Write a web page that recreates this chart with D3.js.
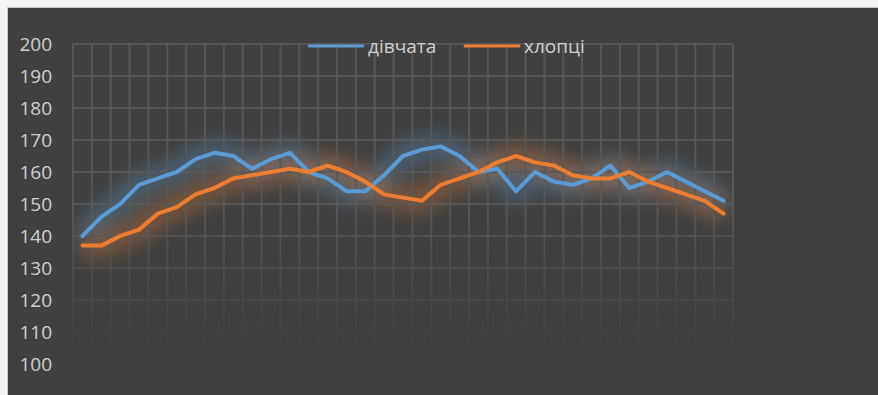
<!DOCTYPE html>
<html>
<head>
<meta charset="utf-8">
<script src="https://cdn.jsdelivr.net/npm/d3@7"></script>
<style>
  body { margin: 0; background: #f2f2f2; }
  svg { display: block; }
</style>
</head>
<body>
<div id="chart"></div>
<script>
// chart data
var categories = d3.range(1, 36);
var girls = [140, 146, 150, 156, 158, 160, 164, 166, 165, 161, 164, 166, 160, 158, 154, 154, 159, 165, 167, 168,
             165, 160, 161, 154, 160, 157, 156, 158, 162, 155, 157, 160, 157, 154, 151];
var boys = [137, 137, 140, 142, 147, 149, 153, 155, 158, 159, 160, 161, 160, 162, 160, 157, 153, 152, 151, 156,
            158, 160, 163, 165, 163, 162, 159, 158, 158, 160, 157, 155, 153, 151, 147];
var yTicks = [100, 110, 120, 130, 140, 150, 160, 170, 180, 190, 200];
var seriesNames = ['дівчата', 'хлопці'];
var seriesColors = ['#5b9bd5', '#ed7d31'];

var W = 878, H = 395;
var plotL = 73, plotR = 733, plotT = 44, plotB = 364;

var svg = d3.select('#chart').append('svg')
    .attr('width', W)
    .attr('height', H);

// light frame on top/left, dark chart area
svg.append('rect').attr('x', 0).attr('y', 0).attr('width', W).attr('height', H).attr('fill', '#f4f4f4');
svg.append('rect').attr('x', 7).attr('y', 7).attr('width', W).attr('height', H).attr('fill', '#c9c9c9');
svg.append('rect').attr('x', 8).attr('y', 8).attr('width', W).attr('height', H).attr('fill', '#404040');

var defs = svg.append('defs');

// grid fades out toward the bottom
var grad = defs.append('linearGradient')
    .attr('id', 'fade')
    .attr('gradientUnits', 'userSpaceOnUse')
    .attr('x1', 0).attr('y1', plotT).attr('x2', 0).attr('y2', plotB);
grad.append('stop').attr('offset', 0).attr('stop-color', '#fff').attr('stop-opacity', 1);
grad.append('stop').attr('offset', 0.5).attr('stop-color', '#fff').attr('stop-opacity', 1);
grad.append('stop').attr('offset', 0.96).attr('stop-color', '#fff').attr('stop-opacity', 0);
defs.append('mask').attr('id', 'gridMask')
    .attr('maskUnits', 'userSpaceOnUse')
    .attr('x', 0).attr('y', 0).attr('width', W).attr('height', H)
  .append('rect')
    .attr('x', 0).attr('y', 0).attr('width', W).attr('height', H)
    .attr('fill', 'url(#fade)');

defs.append('clipPath').attr('id', 'plotClip')
  .append('rect')
    .attr('x', plotL).attr('y', plotT)
    .attr('width', plotR - plotL).attr('height', plotB - plotT);

defs.append('filter')
    .attr('id', 'glow')
    .attr('filterUnits', 'userSpaceOnUse')
    .attr('x', 0).attr('y', 0).attr('width', W).attr('height', H)
  .append('feGaussianBlur')
    .attr('stdDeviation', 10);

var x = d3.scaleBand().domain(categories).range([plotL, plotR]).padding(0);
var y = d3.scaleLinear().domain([100, 200]).range([plotB, plotT]);

var line = d3.line()
    .x(function(d, i) { return x(categories[i]) + x.bandwidth() / 2; })
    .y(function(d) { return y(d); });

var series = [girls, boys];

// soft glow behind the lines, kept inside the plot area
var glowG = svg.append('g').attr('clip-path', 'url(#plotClip)');
series.forEach(function(s, k) {
  glowG.append('path')
      .datum(s)
      .attr('d', line)
      .attr('fill', 'none')
      .attr('stroke', seriesColors[k])
      .attr('stroke-width', 22)
      .attr('stroke-opacity', 0.38)
      .attr('stroke-linejoin', 'round')
      .attr('filter', 'url(#glow)');
});

// gridlines
var grid = svg.append('g').attr('mask', 'url(#gridMask)');
grid.selectAll('.hline')
  .data(yTicks)
  .enter().append('line')
    .attr('x1', plotL).attr('x2', plotR)
    .attr('y1', function(d) { return y(d); })
    .attr('y2', function(d) { return y(d); })
    .attr('stroke', '#595959')
    .attr('stroke-opacity', 0.9)
    .attr('stroke-width', 2);
var edges = categories.map(function(c) { return x(c); }).concat([plotR]);
grid.selectAll('.vline')
  .data(edges)
  .enter().append('line')
    .attr('x1', function(d) { return d; }).attr('x2', function(d) { return d; })
    .attr('y1', plotT).attr('y2', plotB)
    .attr('stroke', '#595959')
    .attr('stroke-opacity', 0.9)
    .attr('stroke-width', 2);

// y axis labels
var yAxis = d3.axisLeft(y).tickValues(yTicks).tickSize(0).tickPadding(21);
var ya = svg.append('g').attr('transform', 'translate(' + plotL + ',0)').call(yAxis);
ya.select('.domain').remove();
ya.selectAll('text')
    .attr('fill', '#d0d0d0')
    .style('font-family', '"Open Sans", "Noto Sans", sans-serif')
    .style('font-size', '19px');

// the lines
series.forEach(function(s, k) {
  svg.append('path')
      .datum(s)
      .attr('d', line)
      .attr('fill', 'none')
      .attr('stroke', seriesColors[k])
      .attr('stroke-width', 4)
      .attr('stroke-linejoin', 'round')
      .attr('stroke-linecap', 'round');
});

// legend
var legendX = [309, 465];
var legend = svg.append('g');
seriesNames.forEach(function(name, k) {
  legend.append('line')
      .attr('x1', legendX[k]).attr('x2', legendX[k] + 54)
      .attr('y1', 46).attr('y2', 46)
      .attr('stroke', seriesColors[k])
      .attr('stroke-width', 3)
      .attr('stroke-linecap', 'round');
  legend.append('text')
      .attr('x', legendX[k] + 59).attr('y', 53)
      .attr('fill', '#d0d0d0')
      .style('font-family', '"Open Sans", "Noto Sans", sans-serif')
      .style('font-size', '19px')
      .text(name);
});
</script>
</body>
</html>
